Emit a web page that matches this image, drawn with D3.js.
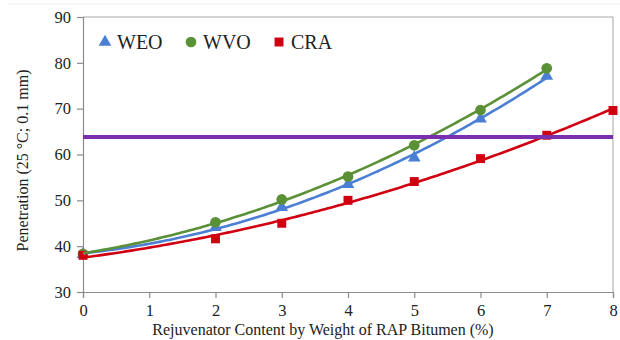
<!DOCTYPE html>
<html>
<head>
<meta charset="utf-8">
<script src="https://cdn.jsdelivr.net/npm/d3@7"></script>
<style>
  html, body { margin: 0; padding: 0; background: #fff; }
  svg { display: block; }
  svg text { font-family: "Liberation Serif", "Times New Roman", Times, serif !important; fill: #222; }
</style>
</head>
<body>
<svg id="chart" width="620" height="340"></svg>
<script>
// Rejuvenator content (% by weight of RAP bitumen)
const weoX = [0, 2, 3, 4, 5, 6, 7];
const weoY = [38.2, 44.1, 48.5, 53.5, 59.3, 67.8, 77.1];
const wvoX = [0, 2, 3, 4, 5, 6, 7];
const wvoY = [38.3, 45.2, 50.2, 55.2, 62.0, 69.7, 78.8];
const craX = [0, 2, 3, 4, 5, 6, 7, 8];
const craY = [38.0, 41.6, 45.0, 50.0, 54.1, 59.1, 64.2, 69.6];
// Target penetration level
const targetPen = 63.8;
const xTicks = [0, 1, 2, 3, 4, 5, 6, 7, 8];
const yTicks = [30, 40, 50, 60, 70, 80, 90];

const svg = d3.select("#chart");
const m = { left: 83, right: 7, top: 17, bottom: 48 };
const W = 620, H = 340;

const x = d3.scaleLinear().domain([0, 8]).range([m.left, W - m.right]);
const y = d3.scaleLinear().domain([30, 90]).range([H - m.bottom, m.top]);

// faint outer frame line
svg.append("line").attr("x1", 8).attr("x2", 620).attr("y1", 4).attr("y2", 4)
  .attr("stroke", "#ececec").attr("stroke-width", 1);

// plot area frame (top and right)
svg.append("path")
  .attr("d", `M${x(0)},${y(90)}H${x(8)}V${y(30)}`)
  .attr("fill", "none").attr("stroke", "#a6a6a6").attr("stroke-width", 1);

const xAxis = svg.append("g")
  .attr("transform", `translate(0,${y(30)})`)
  .call(d3.axisBottom(x).tickValues(xTicks).tickSize(6).tickPadding(6).tickFormat(d3.format("d")));
const yAxis = svg.append("g")
  .attr("transform", `translate(${x(0)},0)`)
  .call(d3.axisLeft(y).tickValues(yTicks).tickSize(6).tickPadding(6).tickFormat(d3.format("d")));
[xAxis, yAxis].forEach(g => {
  g.attr("font-family", null).attr("font-size", null);
  g.select(".domain").attr("stroke", "#8c8c8c").attr("stroke-width", 1.2);
  g.selectAll(".tick line").attr("stroke", "#8c8c8c").attr("stroke-width", 1.2);
  g.selectAll("text").style("font-size", "16.5px").attr("fill", "#222");
});

// axis titles
svg.append("text")
  .attr("x", (x(0) + x(8)) / 2 - 25).attr("y", 335)
  .attr("text-anchor", "middle").style("font-size", "16px")
  .text("Rejuvenator Content by Weight of RAP Bitumen (%)");
svg.append("text")
  .attr("transform", `translate(28,${(y(30) + y(90)) / 2 + 6}) rotate(-90)`)
  .attr("text-anchor", "middle").style("font-size", "16px")
  .text("Penetration (25 °C; 0.1 mm)");

// second-order polynomial least-squares trend
function quadFit(xs, ys) {
  const n = xs.length;
  let s = [0, 0, 0, 0, 0], t = [0, 0, 0];
  for (let i = 0; i < n; i++) {
    const xi = xs[i], yi = ys[i];
    for (let k = 0; k <= 4; k++) s[k] += Math.pow(xi, k);
    for (let k = 0; k <= 2; k++) t[k] += yi * Math.pow(xi, k);
  }
  const A = [[s[0], s[1], s[2], t[0]], [s[1], s[2], s[3], t[1]], [s[2], s[3], s[4], t[2]]];
  for (let i = 0; i < 3; i++) {
    for (let j = i + 1; j < 3; j++) {
      const f = A[j][i] / A[i][i];
      for (let k = i; k < 4; k++) A[j][k] -= f * A[i][k];
    }
  }
  const c = [0, 0, 0];
  for (let i = 2; i >= 0; i--) {
    let v = A[i][3];
    for (let k = i + 1; k < 3; k++) v -= A[i][k] * c[k];
    c[i] = v / A[i][i];
  }
  return v => c[0] + c[1] * v + c[2] * v * v;
}

const series = [
  { xs: weoX, ys: weoY, color: "#4a7fd4", shape: d3.symbolTriangle, size: 70, name: "WEO" },
  { xs: wvoX, ys: wvoY, color: "#5a9036", shape: d3.symbolCircle, size: 90, name: "WVO" },
  { xs: craX, ys: craY, color: "#d00010", shape: d3.symbolSquare, size: 80, name: "CRA" }
];

const line = d3.line().x(d => x(d[0])).y(d => y(d[1])).curve(d3.curveLinear);

// markers
series.forEach(s => {
  svg.append("g").selectAll("path")
    .data(s.xs.map((v, i) => [v, s.ys[i]]))
    .join("path")
    .attr("transform", d => `translate(${x(d[0])},${y(d[1])})`)
    .attr("d", d3.symbol().type(s.shape).size(s.size))
    .attr("fill", s.color);
});

// trend lines over the markers
series.forEach(s => {
  const f = quadFit(s.xs, s.ys);
  const xmax = d3.max(s.xs);
  const pts = d3.range(0, xmax + 0.0001, 0.05).map(v => [v, f(v)]);
  svg.append("path").datum(pts)
    .attr("d", line).attr("fill", "none")
    .attr("stroke", s.color).attr("stroke-width", 2.6);
});

// target penetration line
svg.append("line")
  .attr("x1", x(0)).attr("x2", x(8)).attr("y1", y(targetPen)).attr("y2", y(targetPen))
  .attr("stroke", "#7a2fae").attr("stroke-width", 4);

// legend
const legX = [105, 191, 279];
series.forEach((s, i) => {
  svg.append("path")
    .attr("transform", `translate(${legX[i]},${42})`)
    .attr("d", d3.symbol().type(s.shape).size(s.size))
    .attr("fill", s.color);
  svg.append("text")
    .attr("x", legX[i] + 12).attr("y", 49)
    .style("font-size", "20px")
    .text(s.name);
});
</script>
</body>
</html>
